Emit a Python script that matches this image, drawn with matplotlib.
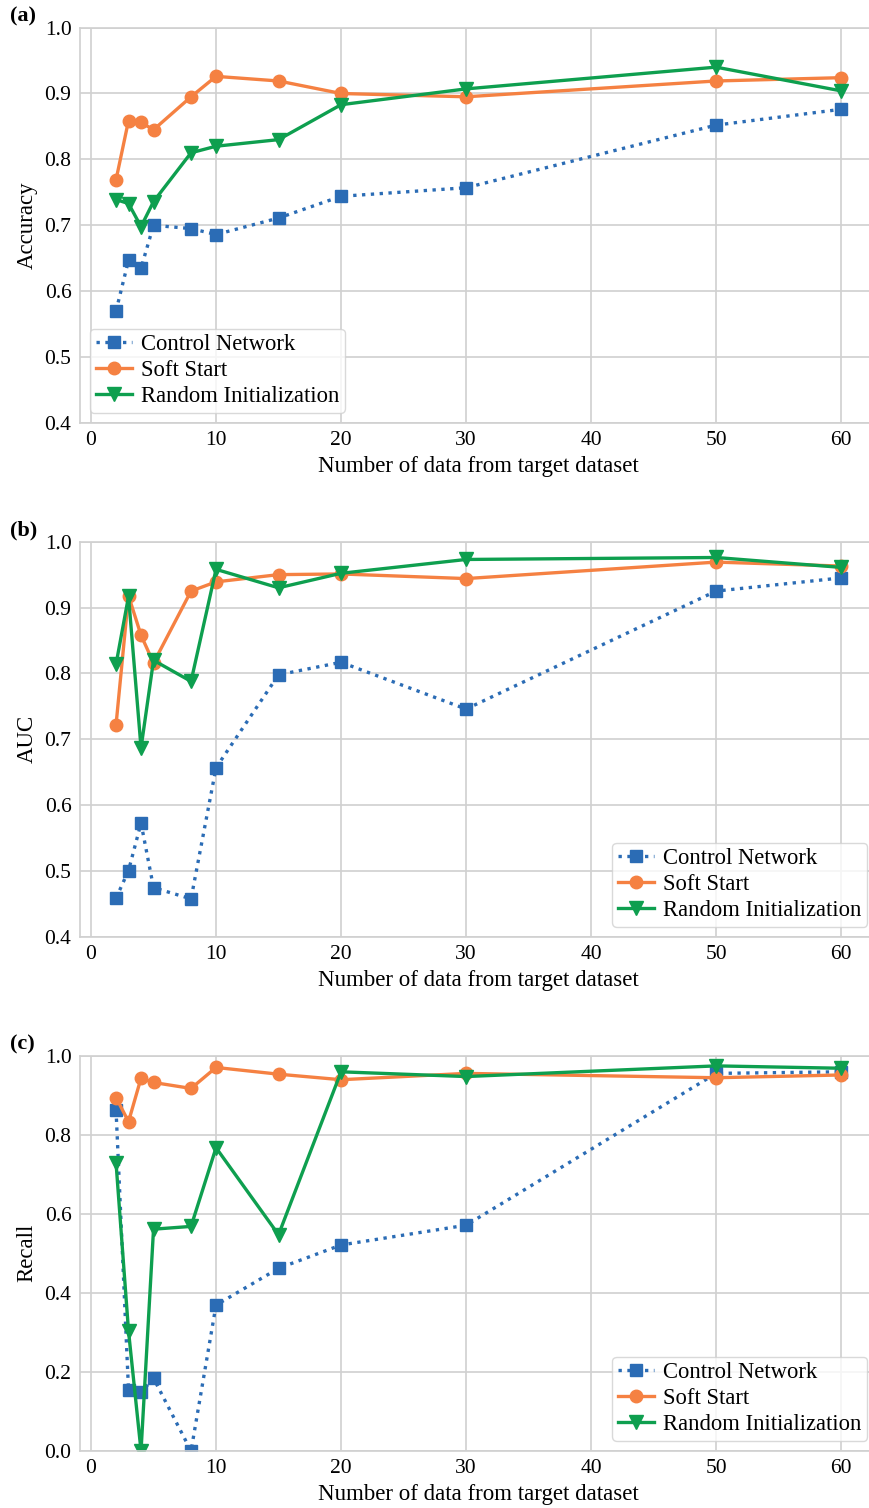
import matplotlib
matplotlib.use("Agg")
import matplotlib.pyplot as plt

n_data = [2, 3, 4, 5, 8, 10, 15, 20, 30, 50, 60]

# (a) Accuracy
acc_control = [0.570, 0.647, 0.635, 0.700, 0.695, 0.686, 0.711, 0.744, 0.757, 0.852, 0.876]
acc_soft = [0.769, 0.859, 0.856, 0.845, 0.895, 0.926, 0.919, 0.900, 0.895, 0.919, 0.924]
acc_random = [0.739, 0.733, 0.698, 0.736, 0.810, 0.820, 0.830, 0.883, 0.907, 0.940, 0.904]

# (b) AUC
auc_control = [0.459, 0.501, 0.573, 0.475, 0.458, 0.657, 0.798, 0.817, 0.746, 0.925, 0.945]
auc_soft = [0.722, 0.918, 0.858, 0.816, 0.925, 0.939, 0.950, 0.951, 0.944, 0.969, 0.963]
auc_random = [0.814, 0.917, 0.687, 0.820, 0.788, 0.958, 0.930, 0.952, 0.973, 0.976, 0.961]

# (c) Recall
rec_control = [0.863, 0.154, 0.148, 0.184, 0.0, 0.369, 0.462, 0.521, 0.571, 0.955, 0.959]
rec_soft = [0.894, 0.833, 0.943, 0.932, 0.917, 0.970, 0.953, 0.939, 0.955, 0.944, 0.951]
rec_random = [0.729, 0.303, 0.0, 0.561, 0.568, 0.767, 0.547, 0.959, 0.947, 0.974, 0.968]

series_names = ["Control Network", "Soft Start", "Random Initialization"]
colors = ["#2b6cb5", "#f58142", "#0e9f4f"]

plt.rcParams["font.family"] = ["Liberation Serif", "DejaVu Serif"]
plt.rcParams["font.size"] = 14

fig = plt.figure(figsize=(8.7, 15.08), dpi=100)

panels = [
    ("(a)", "Accuracy", acc_control, acc_soft, acc_random, (0.4, 1.0),
     [0.4, 0.5, 0.6, 0.7, 0.8, 0.9, 1.0], "lower left", 0.7195),
    ("(b)", "AUC", auc_control, auc_soft, auc_random, (0.4, 1.0),
     [0.4, 0.5, 0.6, 0.7, 0.8, 0.9, 1.0], "lower right", 0.3786),
    ("(c)", "Recall", rec_control, rec_soft, rec_random, (0.0, 1.0),
     [0.0, 0.2, 0.4, 0.6, 0.8, 1.0], "lower right", 0.0378),
]

for tag, ylab, yc, ys, yr, ylim, yt, loc, bottom in panels:
    # right side of the axes runs a little past the figure edge, as in the source
    ax = fig.add_axes([0.0917, bottom, 0.9167, 0.2622])
    ax.plot(n_data, yc, linestyle=":", color=colors[0], marker="s",
            markersize=9, linewidth=2.4, label=series_names[0])
    ax.plot(n_data, ys, linestyle="-", color=colors[1], marker="o",
            markersize=9, linewidth=2.4, label=series_names[1])
    ax.plot(n_data, yr, linestyle="-", color=colors[2], marker="v",
            markersize=10, linewidth=2.4, label=series_names[2])
    ax.set_xlim(-0.9, 62.9)
    ax.set_ylim(*ylim)
    ax.set_yticks(yt)
    ax.set_yticklabels(["%.1f" % v for v in yt])
    ax.set_xticks([0, 10, 20, 30, 40, 50, 60])
    ax.grid(True, color="#d0d0d0", linewidth=1.2)
    ax.set_axisbelow(True)
    for sp in ax.spines.values():
        sp.set_color("#d0d0d0")
        sp.set_linewidth(1.2)
    ax.tick_params(length=0, labelsize=15.5, pad=6)
    ax.set_xlabel("Number of data from target dataset", fontsize=16.5, labelpad=4)
    ax.set_ylabel(ylab, fontsize=16.5, labelpad=5)
    leg = ax.legend(loc=loc, fontsize=16.3, frameon=True, borderpad=0.25,
                    handlelength=1.6, handletextpad=0.4, labelspacing=0.22,
                    borderaxespad=0.45)
    leg.get_frame().set_edgecolor("#d0d0d0")
    fig.text(0.011, bottom + 0.2622 + 0.001, tag, fontsize=16,
             fontweight="bold", ha="left", va="bottom")

fig.savefig("out.png", dpi=100)
